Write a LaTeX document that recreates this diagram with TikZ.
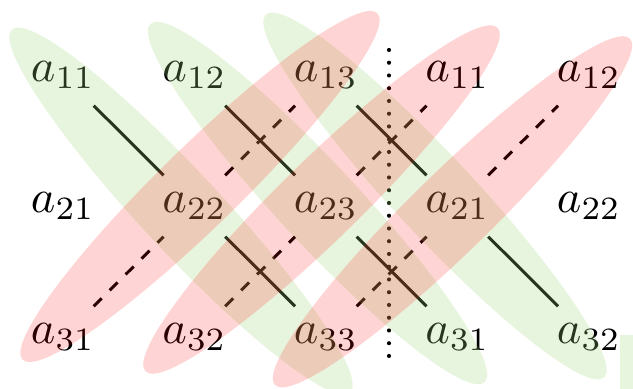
\documentclass[tikz,border=0pt]{standalone}
\definecolor{greenc}{RGB}{163,215,123}
\begin{document}
\begin{tikzpicture}[x=0.26667pt,y=-0.26667pt,
  entry/.style={inner sep=0pt, anchor=base west, scale=1.24},
  solidln/.style={line width=0.8pt, shorten <=11.6pt, shorten >=11.6pt},
  dashln/.style={solidln, dash pattern=on 3pt off 3pt},
  dotln/.style={line width=1.1pt, line cap=round, dash pattern=on 0pt off 3.4pt},
  gfill/.style={fill=greenc, fill opacity=0.25},
  rfill/.style={fill=red, fill opacity=0.17}]
\useasboundingbox (0,0) rectangle (633,389);
\clip (0,0) rectangle (633,389);
% entries
\node[entry] (a11)  at (30,81.5)    {$a_{11}$};
\node[entry] (a12)  at (161.5,81.5) {$a_{12}$};
\node[entry] (a13)  at (293,81.5)   {$a_{13}$};
\node[entry] (a14)  at (424.5,81.5) {$a_{11}$};
\node[entry] (a15)  at (556,81.5)   {$a_{12}$};
\node[entry] (a21)  at (30,212.5)    {$a_{21}$};
\node[entry] (a22)  at (161.5,212.5) {$a_{22}$};
\node[entry] (a23)  at (293,212.5)   {$a_{23}$};
\node[entry] (a24)  at (424.5,212.5) {$a_{21}$};
\node[entry] (a25)  at (556,212.5)   {$a_{22}$};
\node[entry] (a31)  at (30,343.5)    {$a_{31}$};
\node[entry] (a32)  at (161.5,343.5) {$a_{32}$};
\node[entry] (a33)  at (293,343.5)   {$a_{33}$};
\node[entry] (a34)  at (424.5,343.5) {$a_{31}$};
\node[entry] (a35)  at (556,343.5)   {$a_{32}$};
% solid diagonals
\draw[solidln] (a11.center) -- (a22.center);
\draw[solidln] (a22.center) -- (a33.center);
\draw[solidln] (a12.center) -- (a23.center);
\draw[solidln] (a23.center) -- (a34.center);
\draw[solidln] (a13.center) -- (a24.center);
\draw[solidln] (a24.center) -- (a35.center);
% dashed diagonals
\draw[dashln] (a31.center) -- (a22.center);
\draw[dashln] (a22.center) -- (a13.center);
\draw[dashln] (a32.center) -- (a23.center);
\draw[dashln] (a23.center) -- (a14.center);
\draw[dashln] (a33.center) -- (a24.center);
\draw[dashln] (a24.center) -- (a15.center);
% dotted separator
\coordinate (dtop) at (389,50);
\coordinate (dbot) at (389,362);
\draw[dotln] (dtop) -- (dbot);
% green ellipses
\fill[gfill] (181,211) ellipse [x radius=248, y radius=40, rotate=-47];
\fill[gfill] (317.5,203) ellipse [x radius=245, y radius=40, rotate=-47];
\fill[gfill] (435,196) ellipse [x radius=248, y radius=40, rotate=-47];
\fill[gfill] (620,335) rectangle (633,389);
% red ellipses
\fill[rfill] (200,186.5) ellipse [x radius=248, y radius=40, rotate=44.3];
\fill[rfill] (321.5,199.5) ellipse [x radius=246, y radius=40, rotate=44.3];
\fill[rfill] (452.5,211.8) ellipse [x radius=248, y radius=40, rotate=44.3];
\end{tikzpicture}
\end{document}
